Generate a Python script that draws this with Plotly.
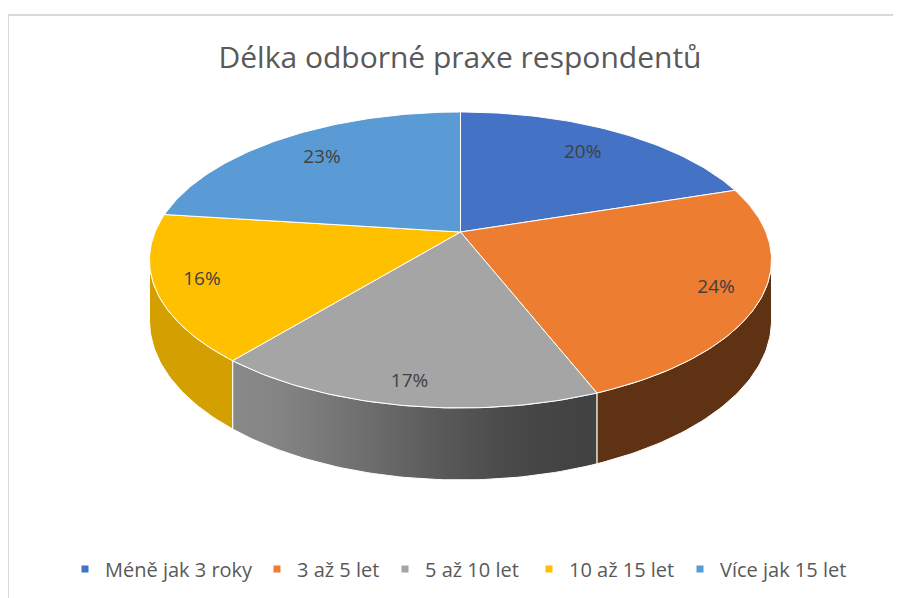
import math
import plotly.graph_objects as go

# ---- data ----
categories = ["Méně jak 3 roky", "3 až 5 let", "5 až 10 let", "10 až 15 let", "Více jak 15 let"]
values = [20, 24, 17, 16, 23]
colors = ["#4472C4", "#ED7D31", "#A5A5A5", "#FFC000", "#5B9BD5"]
title_text = "Délka odborné praxe respondentů"

# ---- layout constants (page pixels) ----
W, H = 901, 598
OFF = 8                 # page body margin
CX, CY = 460.5, 232.0   # pie centre on screen
P = 0.189               # perspective strength
A = 305.4               # horizontal radius factor
B = 142.7               # vertical radius factor
T = 58.4                # thickness factor
FONT = "Open Sans"
legend_text_x = [105, 297, 425, 569, 720]   # left edge of each legend label


def px2paper_x(px):
    return (px - OFF) / W


def px2paper_y(py):
    return 1 - (py - OFF) / H


def proj(theta, d=0.0, r=1.0):
    u = r * math.sin(theta)
    v = -r * math.cos(theta)
    w = 1 - P * v
    return CX + A * u / w, CY + (B * v + T * d) / w


def shade(hexc, f):
    hexc = hexc.lstrip("#")
    r, g, b = (int(hexc[i:i + 2], 16) for i in (0, 2, 4))
    return "rgb(%d,%d,%d)" % (round(r * f), round(g * f), round(b * f))


def side_factor(theta):
    deg = math.degrees(theta)
    t = min(1.0, max(0.0, (deg - 160.0) / 60.0))
    t = t * t * (3 - 2 * t)
    return 0.40 + 0.43 * t


def arc(t0, t1, d=0.0):
    n = max(2, int(abs(math.degrees(t1 - t0))) + 1)
    pts = [proj(t0 + (t1 - t0) * k / (n - 1), d) for k in range(n)]
    return [p[0] for p in pts], [p[1] for p in pts]


total = sum(values)
bounds = []
acc = 0.0
for v in values:
    t0 = 2 * math.pi * acc / total
    acc += v
    t1 = 2 * math.pi * acc / total
    bounds.append((t0, t1))

fig = go.Figure()

# visible part of the side wall
vis0 = math.acos(-P)
vis1 = 2 * math.pi - vis0
for (t0, t1), c in zip(bounds, colors):
    a0, a1 = max(t0, vis0), min(t1, vis1)
    if a1 <= a0:
        continue
    xt, yt = arc(a0, a1, 0.0)
    xb, yb = arc(a1, a0, 1.0)
    xs = xt + xb + [xt[0]]
    ys = yt + yb + [yt[0]]
    xmin, xmax = min(xt), max(xt)
    stops = []
    n = 12
    for k in range(n + 1):
        th = a0 + (a1 - a0) * k / n
        px, _ = proj(th)
        pos = (px - xmin) / (xmax - xmin) if xmax > xmin else 0
        stops.append((min(1, max(0, pos)), shade(c, side_factor(th))))
    stops.sort(key=lambda s: s[0])
    stops[0] = (0.0, stops[0][1])
    stops[-1] = (1.0, stops[-1][1])
    fig.add_trace(go.Scatter(
        x=xs, y=ys, mode="lines", fill="toself",
        fillgradient=dict(type="horizontal", colorscale=[list(s) for s in stops]),
        line=dict(color="white", width=1), showlegend=False, hoverinfo="skip"))

# top faces
for (t0, t1), c in zip(bounds, colors):
    xa, ya = arc(t0, t1, 0.0)
    xs = [CX] + xa + [CX]
    ys = [CY] + ya + [CY]
    fig.add_trace(go.Scatter(
        x=xs, y=ys, mode="lines", fill="toself", fillcolor=c,
        line=dict(color="white", width=1), showlegend=False, hoverinfo="skip"))

# percentage labels
lx, ly, lt = [], [], []
for (t0, t1), v in zip(bounds, values):
    tm = (t0 + t1) / 2
    vm = -math.cos(tm)
    r = 0.76 + 0.13 * max(0.0, vm) ** 0.3
    x, y = proj(tm, 0.0, r)
    lx.append(x)
    ly.append(y)
    lt.append("%d%%" % round(100 * v / total))
fig.add_trace(go.Scatter(
    x=lx, y=ly, mode="text", text=lt,
    textfont=dict(family=FONT, size=19, color="#404040"),
    showlegend=False, hoverinfo="skip"))

# legend entries, one legend per entry so each sits where the original has it
legend_layout = {}
for i, (cat, c) in enumerate(zip(categories, colors)):
    key = "legend" if i == 0 else "legend%d" % (i + 1)
    fig.add_trace(go.Scatter(
        x=[None], y=[None], mode="markers", name=cat, legend=key,
        marker=dict(symbol="square", size=7, color=c)))
    legend_layout[key] = dict(
        orientation="h", x=px2paper_x(legend_text_x[i] - 40), xanchor="left",
        y=px2paper_y(569), yanchor="middle",
        font=dict(family=FONT, size=20, color="#595959"),
        bgcolor="rgba(0,0,0,0)", borderwidth=0)

fig.add_shape(type="rect", x0=8, y0=15, x1=W + 20, y1=H + 20,
              xref="x", yref="y", line=dict(color="#D9D9D9", width=2))

fig.update_layout(
    width=W, height=H,
    margin=dict(l=0, r=0, t=0, b=0),
    paper_bgcolor="white", plot_bgcolor="white",
    title=dict(text=title_text, x=px2paper_x(460), xanchor="center",
               y=px2paper_y(57), yanchor="middle",
               font=dict(family=FONT, size=30, color="#595959")),
    xaxis=dict(range=[OFF, W + OFF], visible=False, fixedrange=True),
    yaxis=dict(range=[H + OFF, OFF], visible=False, fixedrange=True),
    showlegend=True,
    hovermode=False,
    **legend_layout,
)

fig.write_html("out.html")
